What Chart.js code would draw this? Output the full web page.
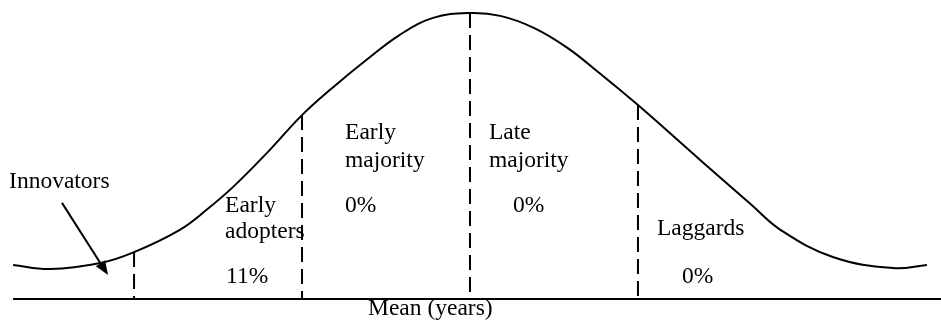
<!DOCTYPE html>
<html>
<head>
<meta charset="utf-8">
<script src="https://cdn.jsdelivr.net/npm/chart.js@4"></script>
<style>
  body { margin: 0; background: #ffffff; }
  #wrap { width: 941px; height: 326px; position: relative; }
</style>
</head>
<body>
<div id="wrap"><canvas id="bellChart"></canvas></div>
<script>
// x in standard deviations from the mean, y as percent of peak height

// bell curve points
const curveX = [-2.72, -2.50, -2.20, -2.00, -1.73, -1.57, -1.41, -1.21, -1.00, -0.82, -0.61, -0.42, -0.22, 0.00,
  0.18, 0.38, 0.58, 0.77, 1.00, 1.37, 1.67, 1.85, 2.16, 2.52, 2.72];
const curveY = [11.9, 10.5, 12.6, 16.4, 24.1, 31.1, 39.2, 51.0, 64.3, 73.8, 83.9, 92.3, 98.3, 100.0,
  99.0, 94.8, 87.8, 79.0, 67.8, 48.6, 33.2, 24.1, 14.7, 10.8, 11.9];

// category boundaries (dashed lines) and where they meet the curve
const boundaryX = [-2, -1, 0, 1];
const boundaryTop = [16.4, 64.3, 100.0, 67.8];

// categories and their shares
const categories = ['Innovators', 'Early adopters', 'Early majority', 'Late majority', 'Laggards'];
const shares = [null, '11%', '0%', '0%', '0%'];

// baseline extent
const axisStart = -2.72;
const axisEnd = 2.81;

// label anchors in data units
const labelSpots = [
  { lines: ['Early', 'adopters'], x: -1.458, y: [30.4, 21.3], share: 1, sx: -1.452, sy: 5.6 },
  { lines: ['Early', 'majority'], x: -0.744, y: [55.9, 46.2], share: 2, sx: -0.744, sy: 30.4 },
  { lines: ['Late', 'majority'], x: 0.113, y: [55.9, 46.2], share: 3, sx: 0.256, sy: 30.4 },
  { lines: ['Laggards'], x: 1.113, y: [22.4], share: 4, sx: 1.262, sy: 5.6 }
];
const innovatorsSpot = { x: -2.744, y: 38.8 };
const arrowFrom = { x: -2.429, y: 33.6 };
const arrowTo = { x: -2.155, y: 8.4 };
const meanSpot = { x: -0.607, y: -5.6 };

// Build datasets
const datasets = [];

datasets.push({
  data: curveX.map((x, i) => ({ x: x, y: curveY[i] })),
  borderColor: '#000000',
  borderWidth: 2,
  pointRadius: 0,
  tension: 0.4,
  fill: false
});

boundaryX.forEach((x, i) => {
  datasets.push({
    data: [{ x: x, y: boundaryTop[i] }, { x: x, y: 0 }],
    borderColor: '#000000',
    borderWidth: 2,
    borderDash: [15, 7],
    pointRadius: 0,
    fill: false
  });
});

datasets.push({
  data: [{ x: axisStart, y: 0 }, { x: axisEnd, y: 0 }],
  borderColor: '#000000',
  borderWidth: 2,
  pointRadius: 0,
  fill: false
});

// Plugin to write the labels and the innovators arrow
const labelPlugin = {
  id: 'labelPlugin',
  afterDatasetsDraw(chart) {
    const ctx = chart.ctx;
    const xs = chart.scales.x;
    const ys = chart.scales.y;
    const px = v => xs.getPixelForValue(v);
    const py = v => ys.getPixelForValue(v);

    ctx.save();
    ctx.fillStyle = '#000000';
    ctx.font = '23.5px "Liberation Serif", "Times New Roman", serif';
    ctx.textAlign = 'left';
    ctx.textBaseline = 'alphabetic';

    labelSpots.forEach(spot => {
      spot.lines.forEach((line, i) => {
        ctx.fillText(line, px(spot.x), py(spot.y[i]));
      });
      ctx.fillText(shares[spot.share], px(spot.sx), py(spot.sy));
    });

    ctx.fillText(categories[0], px(innovatorsSpot.x), py(innovatorsSpot.y));
    ctx.fillText('Mean (years)', px(meanSpot.x), py(meanSpot.y));

    // arrow
    const x1 = px(arrowFrom.x), y1 = py(arrowFrom.y);
    const x2 = px(arrowTo.x), y2 = py(arrowTo.y);
    const len = Math.hypot(x2 - x1, y2 - y1);
    const ux = (x2 - x1) / len, uy = (y2 - y1) / len;
    const bx = x2 - ux * 14, by = y2 - uy * 14;
    ctx.strokeStyle = '#000000';
    ctx.lineWidth = 2;
    ctx.beginPath();
    ctx.moveTo(x1, y1);
    ctx.lineTo(bx, by);
    ctx.stroke();
    ctx.beginPath();
    ctx.moveTo(x2, y2);
    ctx.lineTo(bx - uy * 5.5, by + ux * 5.5);
    ctx.lineTo(bx + uy * 5.5, by - ux * 5.5);
    ctx.closePath();
    ctx.fill();
    ctx.restore();
  }
};

const config = {
  type: 'line',
  data: { datasets: datasets },
  options: {
    responsive: true,
    maintainAspectRatio: false,
    animation: false,
    layout: { padding: 0 },
    scales: {
      x: { type: 'linear', display: false, min: -2.798, max: 2.804 },
      y: { type: 'linear', display: false, min: -9.44, max: 104.55 }
    },
    plugins: {
      legend: { display: false },
      tooltip: { enabled: false },
      title: { display: false }
    }
  },
  plugins: [labelPlugin]
};

const ctx = document.getElementById('bellChart').getContext('2d');
new Chart(ctx, config);
</script>
</body>
</html>
